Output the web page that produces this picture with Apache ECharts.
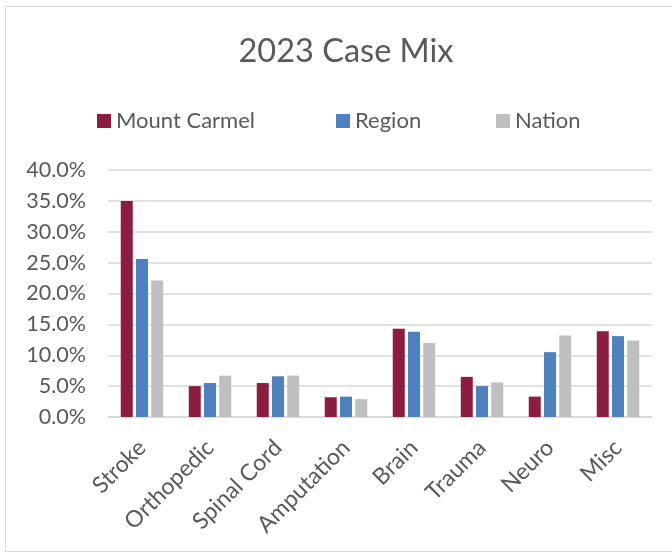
<!DOCTYPE html>
<html>
<head>
<meta charset="utf-8">
<script src="https://cdn.jsdelivr.net/npm/echarts@6/dist/echarts.min.js"></script>
<style>
html,body{margin:0;padding:0;background:#fff;}
#frame{position:absolute;left:5px;top:6px;width:680px;height:546px;border:1.5px solid #d9d9d9;box-sizing:border-box;}
#chart{position:absolute;left:0;top:0;width:672px;height:554px;}
</style>
</head>
<body>
<div id="frame"></div>
<div id="chart"></div>
<script>
const categories = ['Stroke','Orthopedic','Spinal Cord','Amputation','Brain','Trauma','Neuro','Misc'];
const mountCarmel = [35.0, 5.0, 5.5, 3.2, 14.3, 6.5, 3.3, 13.9];
const region = [25.6, 5.5, 6.6, 3.3, 13.8, 5.0, 10.5, 13.1];
const nation = [22.1, 6.7, 6.7, 2.9, 12.0, 5.6, 13.2, 12.4];
const yTicks = [0, 5, 10, 15, 20, 25, 30, 35, 40];

const FONT = 'Lato';
const TXT = '#595959';
const chart = echarts.init(document.getElementById('chart'), null, {renderer:'canvas'});
const legendBase = {
  top: 110, padding: 0, itemWidth: 14, itemHeight: 14, icon: 'rect', itemGap: 8,
  textStyle: {fontFamily: FONT, fontSize: 22, color: TXT}, selectedMode: false
};
chart.setOption({
  animation: false,
  backgroundColor: 'transparent',
  title: {
    text: '2023 Case Mix', left: 341, textAlign: 'center', top: 30,
    textStyle: {fontFamily: FONT, fontSize: 32.5, fontWeight: 'normal', color: TXT}
  },
  legend: [
    Object.assign({}, legendBase, {left: 97, data: ['Mount Carmel']}),
    Object.assign({}, legendBase, {left: 336, data: ['Region']}),
    Object.assign({}, legendBase, {left: 496, data: ['Nation']})
  ],
  grid: {left: 108, right: 20, top: 170, bottom: 137, containLabel: false},
  xAxis: {
    type: 'category', data: categories,
    axisLine: {lineStyle: {color: '#d9d9d9', width: 1.5}},
    axisTick: {show: false},
    axisLabel: {rotate: 45, fontFamily: FONT, fontSize: 23, color: TXT, margin: 27, interval: 0}
  },
  yAxis: {
    type: 'value', min: yTicks[0], max: yTicks[yTicks.length-1], interval: 5,
    axisLine: {show: false}, axisTick: {show: false},
    splitLine: {lineStyle: {color: '#d9d9d9', width: 1.5}},
    axisLabel: {fontFamily: FONT, fontSize: 21.5, color: TXT, margin: 22,
      formatter: v => v.toFixed(1) + '%'}
  },
  series: [
    {name: 'Mount Carmel', type: 'bar', data: mountCarmel, barWidth: 12, barGap: '27%',
     itemStyle: {color: '#8C1C40'}},
    {name: 'Region', type: 'bar', data: region, barWidth: 12, barGap: '27%',
     itemStyle: {color: '#4F81BD'}},
    {name: 'Nation', type: 'bar', data: nation, barWidth: 12, barGap: '27%',
     itemStyle: {color: '#BFBFBF'}}
  ]
});
</script>
</body>
</html>
